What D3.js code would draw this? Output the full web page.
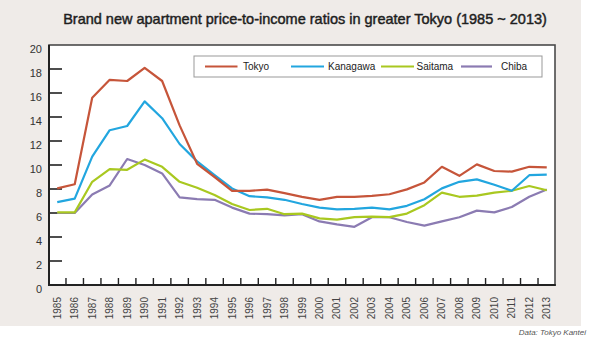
<!DOCTYPE html>
<html><head><meta charset="utf-8">
<script src="https://cdn.jsdelivr.net/npm/d3@7"></script>
<style>html,body{margin:0;padding:0;background:#fff;}svg{display:block;font-family:"Liberation Sans",Arial,sans-serif;}</style>
</head><body>
<script>
const years = d3.range(1985, 2014).map(String);
const tokyo    = [8.05,8.4,15.6,17.1,17.0,18.1,17.0,13.3,10.1,9.0,7.85,7.85,7.95,7.65,7.35,7.1,7.35,7.35,7.42,7.56,7.97,8.55,9.85,9.1,10.05,9.5,9.45,9.85,9.8];
const kanagawa = [6.9,7.2,10.7,12.9,13.25,15.3,13.9,11.75,10.3,9.15,8.05,7.4,7.3,7.1,6.75,6.45,6.3,6.35,6.45,6.3,6.6,7.15,8.05,8.6,8.8,8.35,7.85,9.15,9.2];
const saitama  = [6.05,6.05,8.6,9.65,9.6,10.45,9.85,8.6,8.1,7.5,6.75,6.25,6.35,5.9,5.95,5.55,5.45,5.65,5.7,5.65,5.95,6.65,7.7,7.35,7.45,7.7,7.85,8.25,7.9];
const chiba    = [6.0,6.0,7.55,8.3,10.5,10.0,9.3,7.3,7.15,7.1,6.45,5.95,5.9,5.8,5.9,5.3,5.05,4.85,5.65,5.65,5.25,4.95,5.3,5.65,6.2,6.05,6.5,7.35,7.95];
const seriesNames = ["Tokyo","Kanagawa","Saitama","Chiba"];
const seriesColors = ["#c6553a","#22a6df","#a9c820","#8b7bb2"];
const yTicks = [0,2,4,6,8,10,12,14,16,18,20];
const titleText = "Brand new apartment price-to-income ratios in greater Tokyo (1985 ~ 2013)";
const sourceText = "Data: Tokyo Kantei";

const W = 590, H = 340;
const svg = d3.select("body").append("svg").attr("width", W).attr("height", H);

svg.append("rect").attr("x",0).attr("y",0).attr("width",581).attr("height",326).attr("fill","#efebe8");

const x = d3.scaleBand().domain(years).range([48.5, 555.5]).padding(0);
const y = d3.scaleLinear().domain([0,20]).range([285,45]);
const cx = d => x(d) + x.bandwidth()/2;

svg.append("rect").attr("x",49).attr("y",45).attr("width",506).attr("height",240)
  .attr("fill","#fff").attr("stroke","#4a4a4a").attr("stroke-width",1.6);

svg.append("g").selectAll("line").data(yTicks.filter(v=>v>0&&v<20)).join("line")
  .attr("x1",49).attr("x2",62).attr("y1",d=>y(d)).attr("y2",d=>y(d))
  .attr("stroke","#222").attr("stroke-width",1.6);
svg.append("g").selectAll("text").data(yTicks).join("text")
  .attr("x",42).attr("y",d=>y(d)+4).attr("text-anchor","end").attr("dominant-baseline","central")
  .attr("font-size",11).attr("fill","#333").text(d=>d);

svg.append("g").selectAll("line").data(years.slice(1)).join("line")
  .attr("x1",d=>x(d)).attr("x2",d=>x(d)).attr("y1",285).attr("y2",278)
  .attr("stroke","#222").attr("stroke-width",1.4);
svg.append("g").selectAll("text").data(years).join("text")
  .attr("transform",d=>`translate(${cx(d)},297) rotate(-90)`)
  .attr("text-anchor","end").attr("dominant-baseline","central")
  .attr("font-size",10).attr("fill","#444").text(d=>d);

svg.append("line").attr("x1",49).attr("x2",49).attr("y1",45).attr("y2",285.8).attr("stroke","#222").attr("stroke-width",2);
svg.append("line").attr("x1",48).attr("x2",555.8).attr("y1",285).attr("y2",285).attr("stroke","#222").attr("stroke-width",2);

const data = [tokyo, kanagawa, saitama, chiba];
const line = d3.line().x((d,i)=>cx(years[i])).y(d=>y(d));
[3,2,1,0].forEach(k=>{
  svg.append("path").datum(data[k]).attr("d",line).attr("fill","none")
    .attr("stroke",seriesColors[k]).attr("stroke-width",2.2).attr("stroke-linejoin","round");
});

svg.append("rect").attr("x",194).attr("y",56).attr("width",348).attr("height",21)
  .attr("fill","#fff").attr("stroke","#999").attr("stroke-width",1);
const legLines = [[205,237.5,243],[291,324,328],[381,414,416.5],[461,492,501]];
seriesNames.forEach((n,i)=>{
  const [a,b,t] = legLines[i];
  svg.append("line").attr("x1",a).attr("x2",b).attr("y1",66.5).attr("y2",66.5)
    .attr("stroke",seriesColors[i]).attr("stroke-width",2.2);
  svg.append("text").attr("x",t).attr("y",66.5).attr("dominant-baseline","central")
    .attr("font-size",10).attr("fill","#222").text(n);
});

const title = svg.append("text").attr("x",305).attr("y",19).attr("text-anchor","middle")
  .attr("dominant-baseline","central").attr("font-size",15)
  .attr("fill","#1e1e1e").attr("stroke","#1e1e1e").attr("stroke-width",0.45).text(titleText);
const tl = title.node().getComputedTextLength();
title.attr("font-size", 15*484/tl);

svg.append("text").attr("x",586).attr("y",332).attr("text-anchor","end")
  .attr("dominant-baseline","central").attr("font-size",8).attr("font-style","italic")
  .attr("fill","#555").text(sourceText);
</script>
</body></html>
